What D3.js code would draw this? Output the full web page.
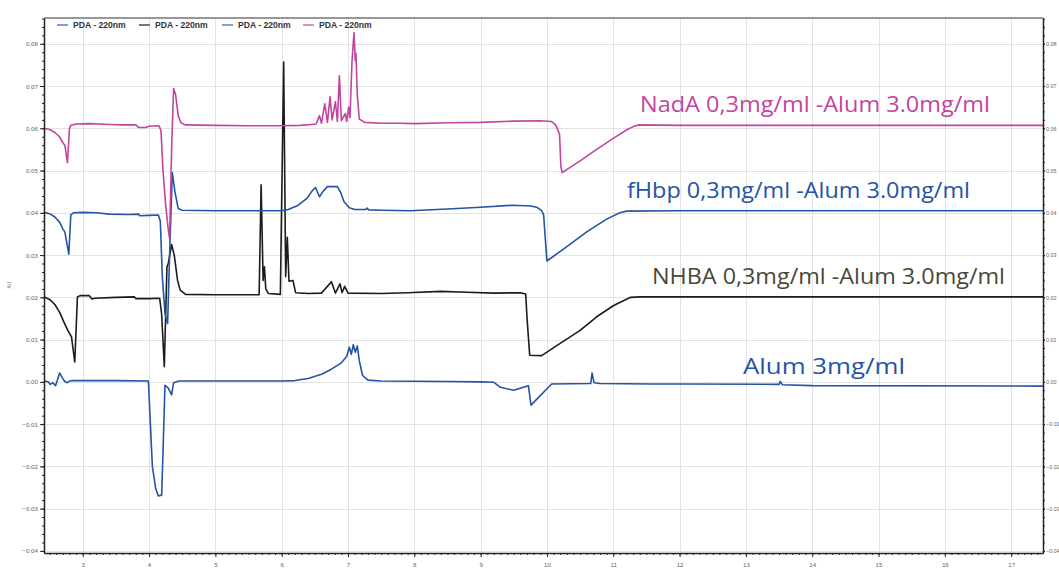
<!DOCTYPE html>
<html>
<head>
<meta charset="utf-8">
<script src="https://cdn.jsdelivr.net/npm/d3@7"></script>
<style>
  html, body { margin: 0; padding: 0; background: #fff; }
  svg { display: block; font-family: "Liberation Sans", Arial, sans-serif; }
</style>
</head>
<body>
<svg id="chart" width="1059" height="570"></svg>
<script>
// Retention time (min) and absorbance (AU) for each PDA 220 nm trace
const nadaTime = [2.42,2.50,2.58,2.65,2.70,2.73,2.77,2.80,2.82,2.90,3.10,3.40,3.60,3.80,3.84,3.95,4.00,4.15,4.18,4.21,4.25,4.29,4.31,4.34,4.37,4.40,4.44,4.48,4.55,5.0,5.5,6.0,6.28,6.45,6.52,6.57,6.60,6.65,6.69,6.73,6.76,6.81,6.84,6.87,6.90,6.96,6.98,7.01,7.03,7.06,7.09,7.11,7.12,7.14,7.17,7.25,7.5,7.8,8.0,8.5,9.0,9.5,9.9,10.07,10.13,10.16,10.19,10.21,10.23,10.5,10.75,11.0,11.2,11.3,11.38,12.0,14.0,17.48];
const nadaAU   = [0.0600,0.0597,0.0590,0.0580,0.0566,0.0560,0.0519,0.0600,0.0607,0.0610,0.0611,0.0609,0.0608,0.0608,0.0602,0.0602,0.0605,0.0606,0.0595,0.0500,0.0420,0.0360,0.0339,0.0550,0.0694,0.0680,0.0630,0.0613,0.0608,0.0607,0.0606,0.0606,0.0607,0.0609,0.0610,0.0630,0.0612,0.0658,0.0614,0.0675,0.0620,0.0663,0.0616,0.0724,0.0618,0.0635,0.0616,0.0650,0.0625,0.0757,0.0826,0.0760,0.0777,0.0680,0.0622,0.0614,0.0612,0.0612,0.0611,0.0613,0.0614,0.0617,0.0618,0.0616,0.0608,0.0598,0.0585,0.0510,0.0495,0.0523,0.0550,0.0576,0.0596,0.0604,0.0608,0.0607,0.0607,0.0607];

const fhbpTime = [2.42,2.50,2.58,2.65,2.70,2.73,2.79,2.82,2.86,3.0,3.2,3.4,3.7,3.84,3.86,4.0,4.14,4.17,4.20,4.24,4.28,4.31,4.35,4.39,4.44,4.5,5.0,6.0,6.1,6.25,6.38,6.46,6.51,6.57,6.63,6.69,6.84,6.89,6.94,7.02,7.1,7.27,7.29,7.31,7.5,7.94,8.5,9.0,9.49,9.75,9.85,9.92,9.95,9.97,10.0,10.3,10.6,10.9,11.1,11.2,12.0,17.48];
const fhbpAU   = [0.0401,0.0398,0.0390,0.0378,0.0362,0.0355,0.0302,0.0395,0.0400,0.0401,0.0400,0.0397,0.0396,0.0397,0.0393,0.0394,0.0395,0.0380,0.0250,0.0162,0.0138,0.0300,0.0495,0.0450,0.0410,0.0406,0.0405,0.0405,0.0408,0.0418,0.0434,0.0452,0.0460,0.0438,0.0452,0.0462,0.0462,0.0448,0.0426,0.0412,0.0408,0.0408,0.0411,0.0407,0.0406,0.0405,0.0409,0.0413,0.0418,0.0416,0.0413,0.0405,0.0395,0.0350,0.0286,0.0320,0.0355,0.0385,0.0400,0.0404,0.0405,0.0405];

const nhbaTime = [2.42,2.50,2.58,2.65,2.72,2.78,2.83,2.88,2.92,2.96,3.10,3.14,3.18,3.5,3.78,3.80,4.0,4.16,4.19,4.23,4.27,4.29,4.34,4.38,4.43,4.47,4.55,5.0,5.5,5.66,5.69,5.72,5.74,5.76,5.80,5.98,6.03,6.06,6.085,6.11,6.17,6.21,6.4,6.6,6.75,6.81,6.88,6.91,6.95,7.0,7.5,7.9,8.4,8.8,9.2,9.6,9.68,9.70,9.74,9.92,10.2,10.5,10.75,11.0,11.26,11.4,17.48];
const nhbaAU   = [0.0201,0.0195,0.0183,0.0165,0.0140,0.0120,0.0107,0.0047,0.0201,0.0204,0.0204,0.0196,0.0198,0.0200,0.0201,0.0197,0.0197,0.0198,0.0160,0.0036,0.0272,0.0280,0.0325,0.0300,0.0240,0.0217,0.0207,0.0206,0.0206,0.0206,0.0466,0.0240,0.0272,0.0220,0.0209,0.0207,0.0757,0.0249,0.0342,0.0238,0.0240,0.0211,0.0209,0.0210,0.0237,0.0210,0.0232,0.0211,0.0226,0.0210,0.0209,0.0211,0.0214,0.0212,0.0210,0.0211,0.0208,0.0150,0.0063,0.0062,0.0091,0.0122,0.0154,0.0180,0.0200,0.0201,0.0201];

const alumTime = [2.42,2.48,2.51,2.55,2.59,2.62,2.65,2.69,2.73,2.77,2.80,2.86,3.5,3.99,4.02,4.05,4.10,4.14,4.19,4.21,4.24,4.29,4.34,4.37,4.45,5.0,6.0,6.2,6.4,6.6,6.75,6.9,6.98,7.02,7.05,7.08,7.11,7.14,7.17,7.22,7.3,7.5,8.5,9.0,9.2,9.3,9.5,9.72,9.76,10.07,10.66,10.68,10.71,10.8,11.55,12.0,13.5,13.52,13.55,14.0,17.48];
const alumAU   = [0.0002,0.0000,-0.0006,-0.0002,-0.0009,0.0005,0.0021,0.0010,0.0001,-0.0002,0.0002,0.0003,0.0003,0.0002,-0.0100,-0.0200,-0.0252,-0.0270,-0.0268,-0.0170,-0.0008,-0.0015,-0.0031,-0.0002,0.0002,0.0002,0.0002,0.0003,0.0008,0.0018,0.0030,0.0045,0.0060,0.0082,0.0065,0.0088,0.0070,0.0085,0.0050,0.0015,0.0004,0.0002,0.0001,0.0000,-0.0001,-0.0013,-0.0020,-0.0009,-0.0055,-0.0005,-0.0004,0.0021,-0.0002,-0.0004,-0.0005,-0.0005,-0.0006,0.0001,-0.0007,-0.0009,-0.0010];

const legendLabels = ["PDA - 220nm","PDA - 220nm","PDA - 220nm","PDA - 220nm"];
const traceNames = ["NadA 0,3mg/ml -Alum 3.0mg/ml","fHbp 0,3mg/ml -Alum 3.0mg/ml","NHBA 0,3mg/ml -Alum 3.0mg/ml","Alum 3mg/ml"];
const xTickValues = [3,4,5,6,7,8,9,10,11,12,13,14,15,16,17];
const yTickValues = [-0.04,-0.03,-0.02,-0.01,0.00,0.01,0.02,0.03,0.04,0.05,0.06,0.07,0.08];

const W = 1059, H = 570;
const plot = { left: 44, right: 1043, top: 18, bottom: 553 };

const svg = d3.select("#chart");
const x = d3.scaleLinear().domain([2.416, 17.48]).range([plot.left, plot.right]);
const y = d3.scaleLinear().domain([-0.0405, 0.0861]).range([plot.bottom, plot.top]);

// grid
const grid = svg.append("g").attr("stroke", "#e2e2e2").attr("stroke-width", 1);
grid.selectAll(".gx").data(xTickValues).join("line")
  .attr("x1", d => Math.round(x(d)) + 0.5).attr("x2", d => Math.round(x(d)) + 0.5)
  .attr("y1", plot.top).attr("y2", plot.bottom);
grid.selectAll(".gy").data(yTickValues).join("line")
  .attr("x1", plot.left).attr("x2", plot.right)
  .attr("y1", d => Math.round(y(d)) + 0.5).attr("y2", d => Math.round(y(d)) + 0.5);

// traces
const series = [
  { t: alumTime, v: alumAU, color: "#2553a6" },
  { t: nhbaTime, v: nhbaAU, color: "#1c1c1c" },
  { t: fhbpTime, v: fhbpAU, color: "#2553a6" },
  { t: nadaTime, v: nadaAU, color: "#c1459e" }
];
const line = d3.line().x(d => x(d[0])).y(d => y(d[1]));
svg.append("clipPath").attr("id", "clip").append("rect")
  .attr("x", plot.left).attr("y", plot.top).attr("width", plot.right - plot.left).attr("height", plot.bottom - plot.top);
const traces = svg.append("g").attr("clip-path", "url(#clip)");
series.forEach(s => {
  traces.append("path")
    .datum(s.t.map((t, i) => [t, s.v[i]]))
    .attr("fill", "none").attr("stroke", s.color).attr("stroke-width", 1.6)
    .attr("stroke-linejoin", "round").attr("d", line);
});

// axes
const fmt = d3.format(".2f");
const yMinor = d3.range(-0.040, 0.0861, 0.002).map(v => +v.toFixed(3));
const xMinor = d3.range(2.5, 17.48, 0.1).map(v => +v.toFixed(1));

const leftAxis = svg.append("g").attr("transform", `translate(${plot.left},0)`);
leftAxis.call(d3.axisLeft(y).tickValues(yMinor).tickSize(2).tickSizeOuter(0).tickFormat(""));
leftAxis.append("g").call(d3.axisLeft(y).tickValues(yTickValues).tickSize(4).tickSizeOuter(0).tickPadding(2).tickFormat(fmt));
const rightAxis = svg.append("g").attr("transform", `translate(${plot.right},0)`);
rightAxis.call(d3.axisRight(y).tickValues(yMinor).tickSize(2).tickSizeOuter(0).tickFormat(""));
rightAxis.append("g").call(d3.axisRight(y).tickValues(yTickValues).tickSize(2).tickSizeOuter(0).tickPadding(1).tickFormat(fmt));
const bottomAxis = svg.append("g").attr("transform", `translate(0,${plot.bottom})`);
bottomAxis.call(d3.axisBottom(x).tickValues(xMinor).tickSize(2).tickSizeOuter(0).tickFormat(""));
bottomAxis.append("g").call(d3.axisBottom(x).tickValues(xTickValues).tickSize(4).tickSizeOuter(0).tickFormat(d3.format("d")));

[leftAxis, rightAxis, bottomAxis].forEach(a => {
  a.selectAll("path.domain").attr("stroke", "#222").attr("stroke-width", 1.5);
  a.selectAll(".tick line").attr("stroke", "#222");
  a.selectAll(".tick text").attr("fill", "#666").attr("font-size", 6.2);
});
rightAxis.selectAll(".tick text").attr("font-size", 5.4);
// only the outer domain line of each axis is kept
[leftAxis, rightAxis, bottomAxis].forEach(a => a.selectAll("g > g path.domain").remove());
bottomAxis.selectAll(".tick text").attr("dy", "1.2em");

// top frame
svg.append("line").attr("x1", plot.left).attr("x2", plot.right)
  .attr("y1", plot.top).attr("y2", plot.top).attr("stroke", "#333").attr("stroke-width", 1.2);

// y axis unit
svg.append("text").attr("transform", "translate(11,285) rotate(-90)")
  .attr("text-anchor", "middle").attr("font-size", 5).attr("fill", "#666").text("AU");

// legend
const legendColors = ["#7f9fd8", "#777777", "#7f9fd8", "#e08cc6"];
const legendX = [57, 139, 222, 303];
const legend = svg.append("g");
legendLabels.forEach((lab, i) => {
  legend.append("line").attr("x1", legendX[i]).attr("x2", legendX[i] + 11)
    .attr("y1", 25).attr("y2", 25).attr("stroke", legendColors[i]).attr("stroke-width", 2);
  legend.append("text").attr("x", legendX[i] + 16).attr("y", 28)
    .attr("font-size", 8.6).attr("font-weight", "bold").attr("fill", "#333").text(lab);
});

// trace annotations
const notes = [
  { text: traceNames[0], x: 640, y: 112, w: 350, color: "#c1459e" },
  { text: traceNames[1], x: 627, y: 198, w: 343, color: "#2553a6" },
  { text: traceNames[2], x: 652, y: 284, w: 353, color: "#4a4736" },
  { text: traceNames[3], x: 743, y: 374, w: 162, color: "#2553a6" }
];
notes.forEach(n => {
  svg.append("text").attr("x", n.x).attr("y", n.y)
    .attr("font-family", "'Open Sans', 'Liberation Sans', sans-serif")
    .attr("font-size", 22).attr("fill", n.color)
    .attr("textLength", n.w).attr("lengthAdjust", "spacingAndGlyphs")
    .text(n.text);
});
</script>
</body>
</html>
